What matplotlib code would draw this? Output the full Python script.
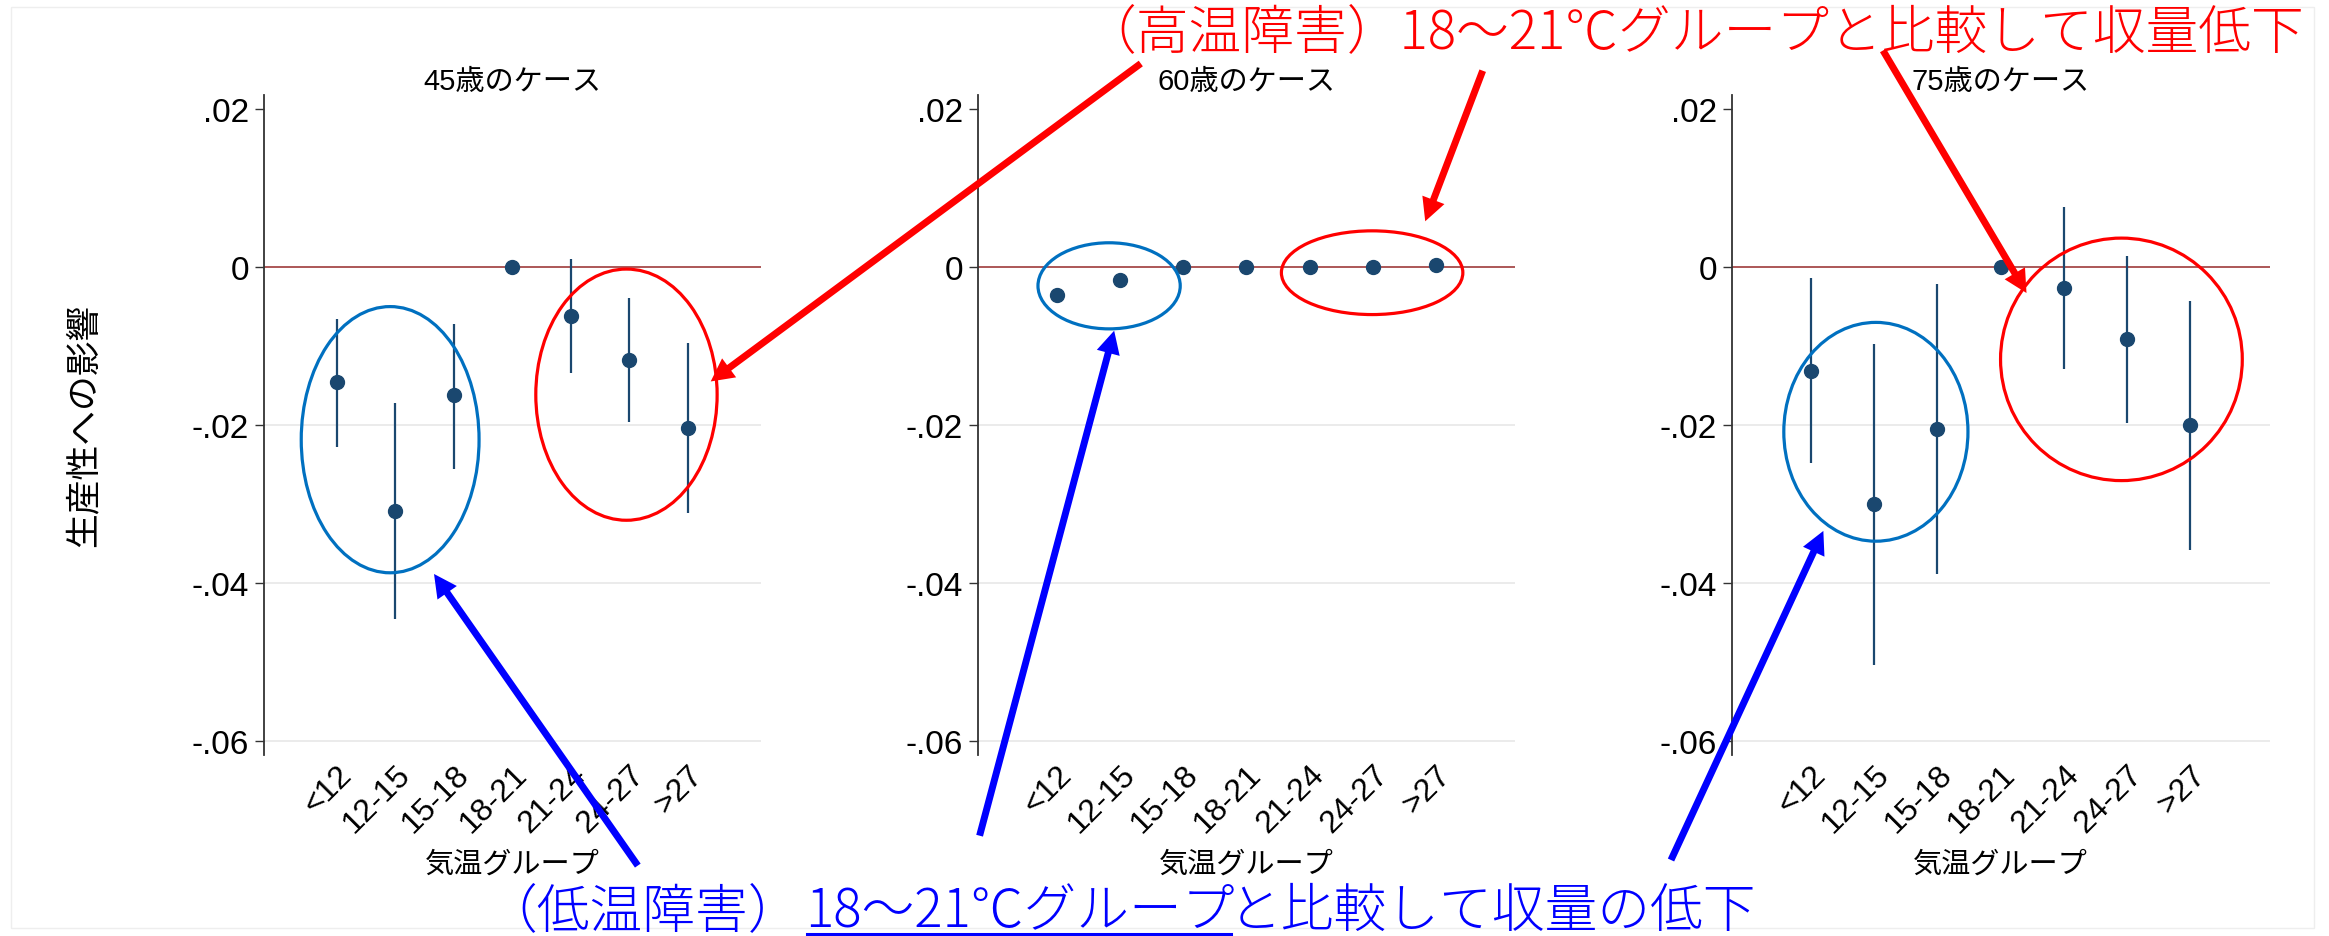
import matplotlib
matplotlib.use("Agg")
import matplotlib.pyplot as plt
from matplotlib.patches import Ellipse, ConnectionPatch, Rectangle
from matplotlib.lines import Line2D

plt.rcParams["font.family"] = ["Liberation Sans", "Noto Sans CJK JP"]
ANN_FONT = ["Noto Sans CJK JP", "DejaVu Sans"]

# ---- data -------------------------------------------------------------
categories = ["<12", "12-15", "15-18", "18-21", "21-24", "24-27", ">27"]
yticks = [0.02, 0.0, -0.02, -0.04, -0.06]
ytick_labels = [".02", "0", "-.02", "-.04", "-.06"]
panel_titles = ["45歳のケース", "60歳のケース", "75歳のケース"]

coef_45 = [-0.0146, -0.0309, -0.0163, 0.0, -0.0062, -0.0118, -0.0204]
lo_45 = [-0.0228, -0.0446, -0.0256, 0.0, -0.0135, -0.0197, -0.0312]
hi_45 = [-0.0066, -0.0173, -0.0072, 0.0, 0.0010, -0.0039, -0.0097]

coef_60 = [-0.0036, -0.0017, -0.0001, 0.0, 0.0, 0.0, 0.0002]
lo_60 = [-0.0039, -0.0020, -0.0003, 0.0, -0.0002, -0.0002, 0.0000]
hi_60 = [-0.0033, -0.0014, 0.0001, 0.0, 0.0002, 0.0002, 0.0004]

coef_75 = [-0.0132, -0.0301, -0.0206, 0.0, -0.0027, -0.0092, -0.0201]
lo_75 = [-0.0248, -0.0504, -0.0389, 0.0, -0.0129, -0.0198, -0.0359]
hi_75 = [-0.0014, -0.0098, -0.0022, 0.0, 0.0076, 0.0014, -0.0043]

panels = [(coef_45, lo_45, hi_45), (coef_60, lo_60, hi_60), (coef_75, lo_75, hi_75)]

# highlighted groups per panel: (centre x, centre y, width, height) in data units
cold_regions = [(1.91, -0.0219, 3.04, 0.0337),
                (1.83, -0.00242, 2.25, 0.0109),
                (2.03, -0.0209, 2.91, 0.0277)]
hot_regions = [(5.95, -0.0162, 3.10, 0.0318),
               (5.99, -0.00076, 2.87, 0.0106),
               (5.91, -0.01173, 3.82, 0.0307)]

# callout arrows: tail in figure pixels (from top-left), head in data units
hot_tails = [(1140.8, 64.5), (1482.7, 71.7), (1883.0, 51.5)]
hot_heads = [(7.39, -0.01453), (6.83, 0.00575), (4.41, -0.00333)]
cold_tails = [(637.8, 866.6), (979.6, 836.7), (1671.0, 861.0)]
cold_heads = [(2.66, -0.0389), (1.91, -0.0081), (1.20, -0.03345)]

hot_text = "（高温障害）18～21℃グループと比較して収量低下"
cold_text_parts = ["（低温障害）", "18～21℃グループ", "と比較して収量の低下"]

# ---- figure -------------------------------------------------------------
W, H = 2329, 937
fig = plt.figure(figsize=(W / 100, H / 100), dpi=100)
fig.patch.set_facecolor("white")

def fx(px):
    return px / W

def fy(py):
    return 1 - py / H

axes_x = [(263.8, 761.0), (977.6, 1515.0), (1731.6, 2269.5)]
ax_top, ax_bot = 95.6, 756.0

NAVY = "#1a476f"
RED = "#FF0000"
BLUE = "#0000FF"
ELL_BLUE = "#0070C0"

positions = list(range(1, len(categories) + 1))
axes = []
for i, ((x0, x1), (coef, lo, hi)) in enumerate(zip(axes_x, panels)):
    ax = fig.add_axes([fx(x0), fy(ax_bot), (x1 - x0) / W, (ax_bot - ax_top) / H])
    ax.patch.set_visible(False)
    ax.set_xlim(-0.25, 8.25)
    ax.set_ylim(-0.061818, 0.021788)

    for t in yticks:
        if t < 0:
            ax.axhline(t, color="#e8e8e8", lw=1.2, zorder=0)
    ax.axhline(0, color="#962a2a", lw=1.1, zorder=1)

    ax.vlines(positions, lo, hi, color=NAVY, lw=1.6, zorder=2)
    ax.plot(positions, coef, "o", color=NAVY, ms=10, mec=NAVY, zorder=3)

    for sp in ["top", "right", "bottom"]:
        ax.spines[sp].set_visible(False)
    ax.spines["left"].set_color("#333333")
    ax.spines["left"].set_linewidth(1.3)

    ax.set_yticks(yticks, ytick_labels)
    ax.tick_params(axis="y", direction="out", length=6.5, width=1.0,
                   color="#333333", pad=4, labelsize=24)
    ax.set_xticks(positions, categories)
    ax.tick_params(axis="x", length=0, pad=3, labelsize=23)
    for lab in ax.get_xticklabels():
        lab.set_rotation(45)
        lab.set_ha("right")
        lab.set_va("top")
        lab.set_rotation_mode("anchor")

    ax.set_title(panel_titles[i], fontsize=21, pad=4)
    ax.set_xlabel("気温グループ", fontsize=21, va="center")
    ax.xaxis.set_label_coords(0.5, (ax_bot - 865) / (ax_bot - ax_top))

    cx, cy, w, h = cold_regions[i]
    ax.add_patch(Ellipse((cx, cy), w, h, fill=False, ec=ELL_BLUE, lw=2.3,
                         clip_on=False, zorder=4))
    cx, cy, w, h = hot_regions[i]
    ax.add_patch(Ellipse((cx, cy), w, h, fill=False, ec=RED, lw=2.3,
                         clip_on=False, zorder=4))
    axes.append(ax)

axes[0].set_ylabel("生産性への影響", fontsize=25, va="center")
axes[0].yaxis.set_label_coords((84 - 263.8) / (761.0 - 263.8), 0.5)

# callout arrows
arrow_style = "simple,head_length=16.5,head_width=17,tail_width=5"
for tails, heads, col in [(hot_tails, hot_heads, RED), (cold_tails, cold_heads, BLUE)]:
    for ax, (tx, ty), (hx, hy) in zip(axes, tails, heads):
        con = ConnectionPatch(xyA=(fx(tx), fy(ty)), coordsA="figure fraction",
                              xyB=(hx, hy), coordsB="data", axesB=ax,
                              arrowstyle=arrow_style, mutation_scale=1,
                              color=col, lw=0, shrinkA=0, shrinkB=0,
                              annotation_clip=False, zorder=6)
        fig.add_artist(con)

# headline annotations
fig.text(fx(2304), fy(48), hot_text, color=RED, fontsize=38, family=ANN_FONT,
         fontweight="light", ha="right", va="baseline")

fig.canvas.draw()
renderer = fig.canvas.get_renderer()
inv = fig.transFigure.inverted()
gaps = [-31, 4, -6]
x_cursor = 515.7
base_y = fy(927)
pieces = []
for part, gap in zip(cold_text_parts, gaps):
    t = fig.text(fx(x_cursor + gap), base_y, part, color=BLUE, fontsize=38,
                 family=ANN_FONT, fontweight="light", ha="left", va="baseline")
    bb = t.get_window_extent(renderer)
    x_cursor = bb.x1
    pieces.append(t)

bb = pieces[1].get_window_extent(renderer)
(u0, _), (u1, _) = inv.transform([(bb.x0 + 2, 0), (bb.x1 - 4, 0)])
fig.add_artist(Line2D([u0, u1], [fy(935), fy(935)], color=BLUE, lw=2.2))

# outer frame
fig.add_artist(Rectangle((fx(10.7), fy(929)), (2314 - 10.7) / W, (929 - 8) / H,
                         transform=fig.transFigure, fill=False,
                         ec="#eeeeee", lw=1))

fig.savefig("out.png", dpi=100)
